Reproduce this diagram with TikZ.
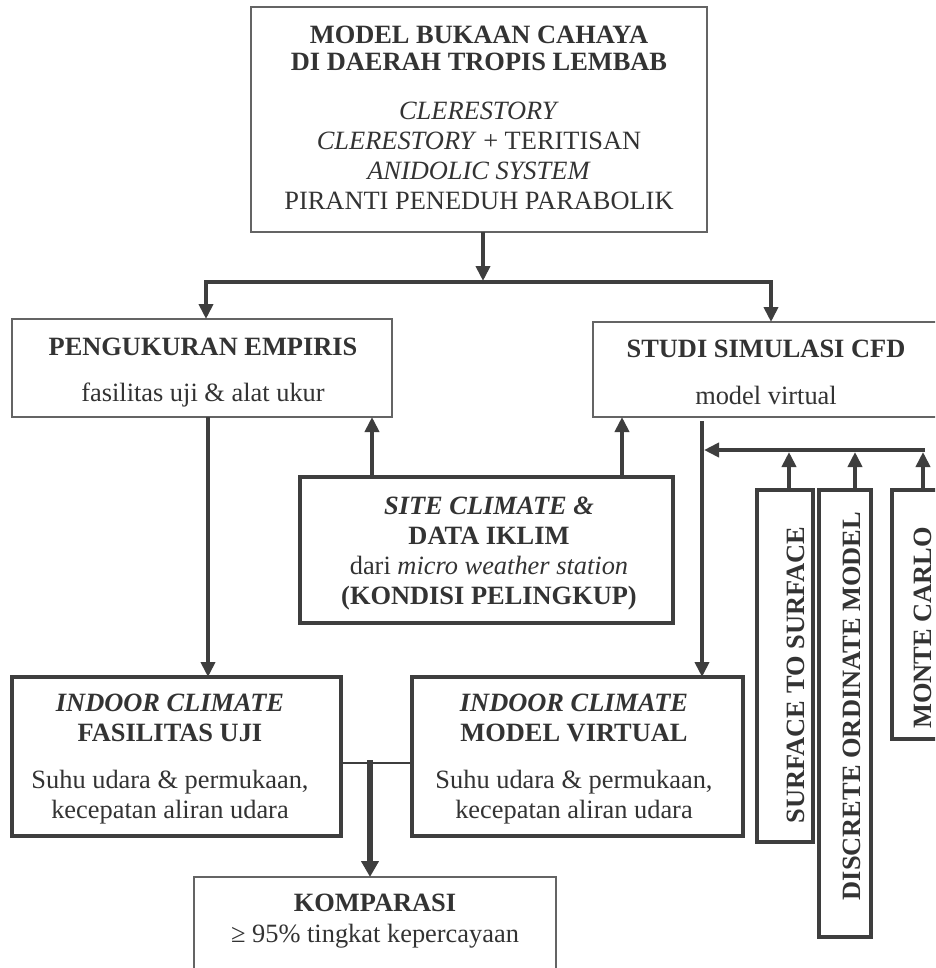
\documentclass[tikz,border=0pt]{standalone}
\usepackage{fontspec}
\setmainfont{Liberation Serif}
\usetikzlibrary{arrows.meta}
\definecolor{txtc}{RGB}{51,51,51}
\definecolor{linec}{RGB}{62,62,62}
\definecolor{thinc}{RGB}{100,100,100}
\begin{document}
\begin{tikzpicture}[x=1pt,y=-1pt,
  every node/.style={inner sep=0pt, outer sep=0pt, text=txtc},
  thinbox/.style={draw=thinc, line width=1.3pt, rectangle},
  thickbox/.style={draw=linec, line width=3.4pt, rectangle},
  txt/.style={font=\fontsize{26.4}{30}\selectfont, align=center, anchor=north},
  vtxt/.style={font=\fontsize{26.4}{30}\selectfont\bfseries, rotate=90},
  arr/.style={draw=linec, line width=4.5pt, -{Triangle[length=15pt,width=14pt]}},
  arrK/.style={draw=linec, line width=6.5pt, -{Triangle[length=16pt,width=17pt]}},
  conn/.style={draw=linec, line width=4.5pt},
  midline/.style={draw=linec, line width=2.6pt}]
\useasboundingbox (0,0) rectangle (935,968);
\clip (0,0) rectangle (935,968);
\fill[white] (0,0) rectangle (935,968);

% boxes
\node[thinbox, minimum width=456pt, minimum height=225pt] (top) at (479,119.5) {};
\node[txt] (topT) at (479,26) {\textbf{MODEL BUKAAN CAHAYA}\\[-3pt] \textbf{DI DAERAH TROPIS LEMBAB}\\[19pt] \textit{CLERESTORY}\\ \textit{CLERESTORY} + TERITISAN\\ \textit{ANIDOLIC SYSTEM}\\ PIRANTI PENEDUH PARABOLIK};

\node[thinbox, minimum width=380pt, minimum height=98pt] (peng) at (202,368) {};
\node[txt] (pengT) at (203,338) {\textbf{PENGUKURAN EMPIRIS}\\[16pt] fasilitas uji \& alat ukur};

\node[thinbox, minimum width=347pt, minimum height=95pt] (studi) at (766.5,369.5) {};
\node[txt] (studiT) at (766,340) {\textbf{STUDI SIMULASI CFD}\\[17pt] model virtual};

\node[thickbox, minimum width=373pt, minimum height=146pt] (site) at (486.5,550) {};
\node[txt] (siteT) at (489,497) {\textbf{\textit{SITE CLIMATE \&}}\\ \textbf{DATA IKLIM}\\ dari \textit{micro weather station}\\ \textbf{(KONDISI PELINGKUP)}};

\node[thickbox, minimum width=329pt, minimum height=159pt] (inL) at (176.5,756.5) {};
\node[txt] (inLT) at (170,694) {\textbf{\textit{INDOOR CLIMATE}}\\ \textbf{FASILITAS UJI}\\[17pt] Suhu udara \& permukaan,\\ kecepatan aliran udara};

\node[thickbox, minimum width=331pt, minimum height=159pt] (inR) at (577.5,756.5) {};
\node[txt] (inRT) at (574,694) {\textbf{\textit{INDOOR CLIMATE}}\\ \textbf{MODEL VIRTUAL}\\[17pt] Suhu udara \& permukaan,\\ kecepatan aliran udara};

\node[thinbox, minimum width=362pt, minimum height=100pt] (komp) at (375,927) {};
\node[txt] (kompT) at (375,894) {\textbf{KOMPARASI}\\[1pt] ≥ 95\% tingkat kepercayaan};

\node[thickbox, minimum width=56pt, minimum height=352pt] (surf) at (785,666) {};
\node[vtxt] (surfT) at (796,675) {SURFACE TO SURFACE};
\node[thickbox, minimum width=52pt, minimum height=447pt] (disc) at (845,713.5) {};
\node[vtxt] (discT) at (852,706) {DISCRETE ORDINATE MODEL};
\node[thickbox, minimum width=62pt, minimum height=249pt] (mc) at (923,614.5) {};
\node[vtxt] (mcT) at (922.5,628) {MONTE CARLO};

% helper coordinates
\coordinate (jM) at (483,282);
\coordinate (jMt) at (483,281);
\coordinate (xL) at (206,0);
\coordinate (xR) at (771,0);
\coordinate (xA) at (372,0);
\coordinate (xB) at (622,0);
\coordinate (xP) at (208,0);
\coordinate (xC) at (702,0);
\coordinate (xCt) at (704,0);
\coordinate (yS) at (0,421);
\coordinate (yBus) at (0,450);
\coordinate (yBt) at (0,452);
\coordinate (xS) at (789,0);
\coordinate (xD) at (855,0);
\coordinate (xM) at (923,0);
\coordinate (xMe) at (925,0);
\coordinate (yC) at (0,763);
\coordinate (xK) at (370,0);
\coordinate (yK) at (0,760);

% connectors
\draw[arr] (jM |- top.south) -- (jMt);
\draw[arr] (jM) -| (xL |- peng.north);
\draw[arr] (jM) -| (xR |- studi.north);
\draw[arr] (xA |- site.north) -- (xA |- peng.south);
\draw[arr] (xB |- site.north) -- (xB |- studi.south);
\draw[arr] (xP |- peng.south) -- (xP |- inL.north);
\draw[arr] (xC |- yS) -- (xC |- inR.north);
\draw[arr] (xS |- surf.north) -- (xS |- yBt);
\draw[arr] (xD |- disc.north) -- (xD |- yBt);
\draw[arr] (xM |- mc.north) -- (xM |- yBt);
\draw[arr] (xMe |- yBus) -- (xCt |- yBus);
\draw[midline] (inL.east |- yC) -- (inR.west |- yC);
\draw[arrK] (xK |- yK) -- (xK |- komp.north);
\end{tikzpicture}
\end{document}
